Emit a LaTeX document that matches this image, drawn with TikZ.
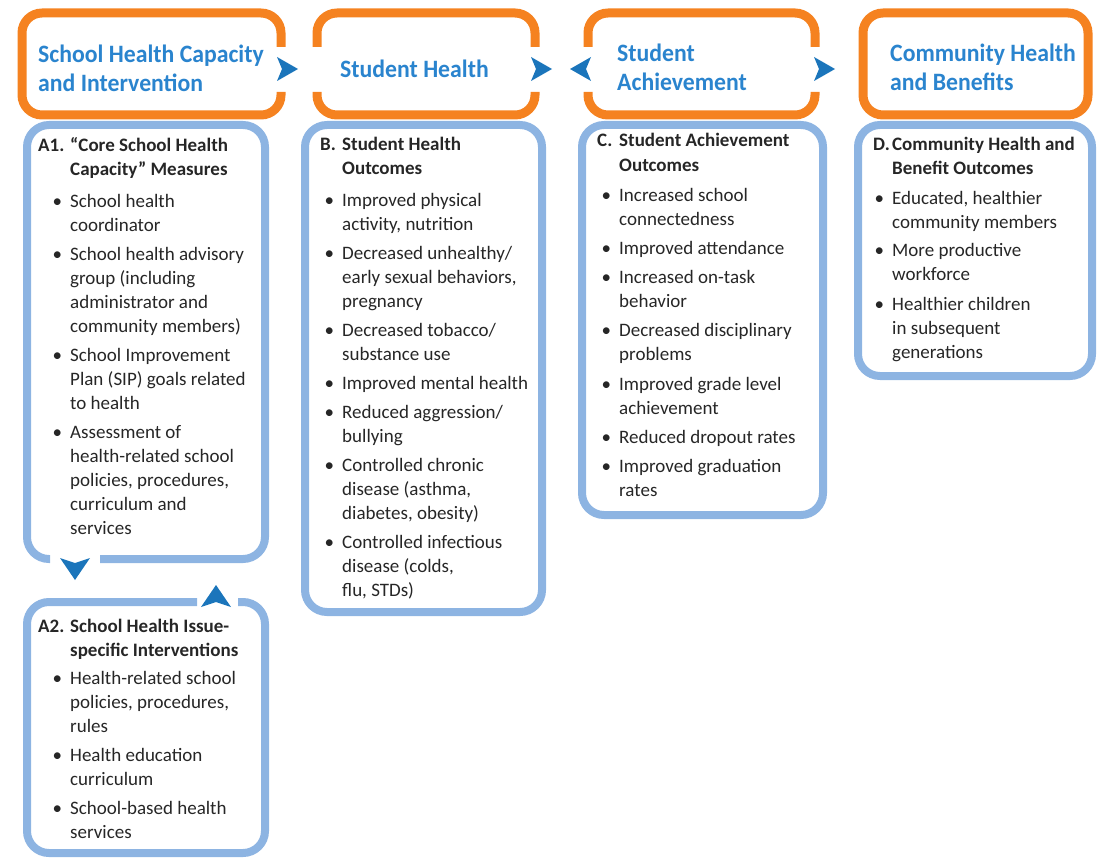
\documentclass[tikz,border=0pt]{standalone}
\usepackage{fontspec}
\setmainfont{Carlito}
\newfontfamily\titlefont{Carlito}[FakeStretch=0.95]
\definecolor{boxorange}{HTML}{F58220}
\definecolor{boxblue}{HTML}{8DB4E2}
\definecolor{tipblue}{HTML}{1B75BB}
\definecolor{titleblue}{HTML}{2A84CE}
\definecolor{bodytext}{HTML}{262626}
% heading label, bullet and hanging indent of the outcome lists
\newcommand\lbl[2]{\makebox[#1][l]{#2}}
\newcommand\blt[1]{\makebox[#1][r]{\textbullet\hspace{8pt}}}
\newcommand\hang[1]{\hspace*{#1}}
% arrowheads between the boxes
\newcommand\arrR[2]{\fill[tipfill] (#1,#2) -- ++(-21,-12) -- ++(5,12) -- ++(-5,12) -- cycle;}
\newcommand\arrL[2]{\fill[tipfill] (#1,#2) -- ++(21,-12) -- ++(-5,12) -- ++(5,12) -- cycle;}
\newcommand\arrD[2]{\fill[tipfill] (#1,#2) -- ++(-15,-22) -- ++(15,5) -- ++(15,-5) -- cycle;}
\newcommand\arrU[2]{\fill[tipfill] (#1,#2) -- ++(-15,22) -- ++(15,-5) -- ++(15,5) -- cycle;}
\tikzset{
  outerbox/.style={draw=boxorange, line width=9pt, rounded corners=20pt},
  innerbox/.style={draw=boxblue, line width=8pt, rounded corners=22pt},
  tipfill/.style={fill=tipblue},
  title/.style={anchor=west, inner sep=0pt, align=left, text=titleblue,
    font=\titlefont\bfseries\fontsize{25}{29}\selectfont},
  body/.style={anchor=north west, inner sep=0pt, align=left, text=bodytext,
    font=\fontsize{19}{24}\selectfont},
}
\begin{document}
\begin{tikzpicture}[x=1pt,y=-1pt]
\useasboundingbox (0,0) rectangle (1097,864);

% outcome boxes (blue)
\draw[innerbox] (100,559) -- (265,559) -- (265,125) -- (27,125) -- (27,559) -- (50,559);
\draw[innerbox] (197,602) -- (27,602) -- (27,853) -- (265,853) -- (265,602) -- (238,602);
\draw[innerbox] (305,125) rectangle (542,612);
\draw[innerbox] (582,125) rectangle (823,515);
\draw[innerbox] (858,125) rectangle (1092,376);

% stage boxes (orange)
\draw[outerbox] (281,92) -- (281,115) -- (22,115) -- (22,13) -- (281,13) -- (281,47);
\draw[outerbox] (317,47) -- (317,13) -- (535,13) -- (535,47);
\draw[outerbox] (317,92) -- (317,115) -- (535,115) -- (535,92);
\draw[outerbox] (588,47) -- (588,13) -- (815,13) -- (815,47);
\draw[outerbox] (588,92) -- (588,115) -- (815,115) -- (815,92);
\draw[outerbox] (863,13) rectangle (1088,115);

% arrowheads
\arrR{298}{69}
\arrR{552}{69}
\arrL{570}{69}
\arrR{835}{69}
\arrD{75}{580}
\arrU{216}{585}

% stage titles
\node[title] (t1) at (38,68) {School Health Capacity\\and Intervention};
\node[title] (t2) at (340,69) {Student Health};
\node[title] (t3) at (617,67) {Student\\Achievement};
\node[title] (t4) at (890,67) {Community Health\\and Benefits};

% outcome lists
\node[body] (a1) at (38,137) {%
\textbf{\lbl{32pt}{A1.}“Core School Health}\\
\textbf{\hang{32pt}Capacity” Measures}\\[8pt]
\blt{32pt}School health\\
\hang{32pt}coordinator\\[5pt]
\blt{32pt}School health advisory\\
\hang{32pt}group (including\\
\hang{32pt}administrator and\\
\hang{32pt}community members)\\[5pt]
\blt{32pt}School Improvement\\
\hang{32pt}Plan (SIP) goals related\\
\hang{32pt}to health\\[5pt]
\blt{32pt}Assessment of\\
\hang{32pt}health-related school\\
\hang{32pt}policies, procedures,\\
\hang{32pt}curriculum and\\
\hang{32pt}services};

\node[body] (a2) at (38,619) {%
\textbf{\lbl{32pt}{A2.}School Health Issue-}\\
\textbf{\hang{32pt}specific Interventions}\\[4pt]
\blt{32pt}Health-related school\\
\hang{32pt}policies, procedures,\\
\hang{32pt}rules\\[5pt]
\blt{32pt}Health education\\
\hang{32pt}curriculum\\[5pt]
\blt{32pt}School-based health\\
\hang{32pt}services};

\node[body] (b) at (320,137) {%
\textbf{\lbl{22pt}{B.}Student Health}\\
\textbf{\hang{22pt}Outcomes}\\[8pt]
\blt{22pt}Improved physical\\
\hang{22pt}activity, nutrition\\[5pt]
\blt{22pt}Decreased unhealthy/\\
\hang{22pt}early sexual behaviors,\\
\hang{22pt}pregnancy\\[5pt]
\blt{22pt}Decreased tobacco/\\
\hang{22pt}substance use\\[5pt]
\blt{22pt}Improved mental health\\[5pt]
\blt{22pt}Reduced aggression/\\
\hang{22pt}bullying\\[5pt]
\blt{22pt}Controlled chronic\\
\hang{22pt}disease (asthma,\\
\hang{22pt}diabetes, obesity)\\[5pt]
\blt{22pt}Controlled infectious\\
\hang{22pt}disease (colds,\\
\hang{22pt}flu, STDs)};

\node[body] (c) at (597,133) {%
\textbf{\lbl{22pt}{C.}Student Achievement}\\[1pt]
\textbf{\hang{22pt}Outcomes}\\[6pt]
\blt{22pt}Increased school\\
\hang{22pt}connectedness\\[5pt]
\blt{22pt}Improved attendance\\[5pt]
\blt{22pt}Increased on-task\\
\hang{22pt}behavior\\[5pt]
\blt{22pt}Decreased disciplinary\\
\hang{22pt}problems\\[6pt]
\blt{22pt}Improved grade level\\
\hang{22pt}achievement\\[5pt]
\blt{22pt}Reduced dropout rates\\[5pt]
\blt{22pt}Improved graduation\\
\hang{22pt}rates};

\node[body] (d) at (873,137) {%
\textbf{\lbl{19pt}{D.}Community Health and}\\
\textbf{\hang{19pt}Benefit Outcomes}\\[6pt]
\blt{19pt}Educated, healthier\\
\hang{19pt}community members\\[4pt]
\blt{19pt}More productive\\
\hang{19pt}workforce\\[6pt]
\blt{19pt}Healthier children\\
\hang{19pt}in subsequent\\
\hang{19pt}generations};
\end{tikzpicture}
\end{document}
